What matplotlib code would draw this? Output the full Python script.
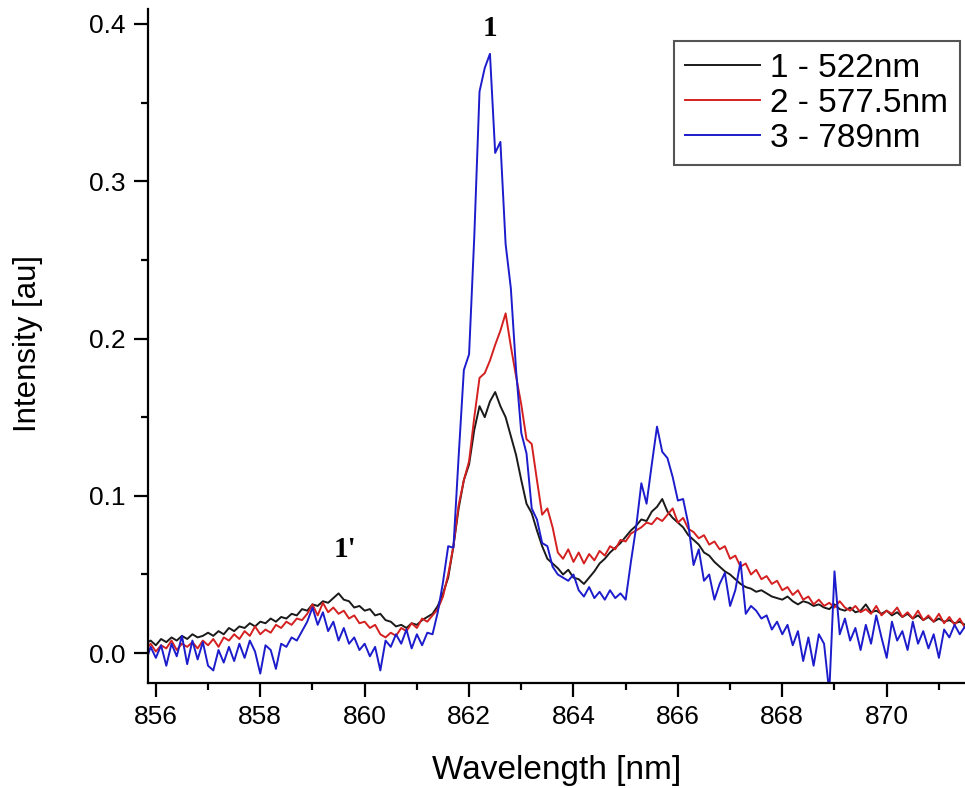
import numpy as np
import matplotlib
matplotlib.use("Agg")
import matplotlib.pyplot as plt
from matplotlib.ticker import MultipleLocator, FormatStrFormatter

plt.rcParams['font.family'] = ['Liberation Sans', 'DejaVu Sans']

# wavelength grid of the spectra, 855.8 .. 871.6 nm
wavelength = np.round(np.linspace(855.8, 871.6, 159), 2)

labels = ["1 - 522nm", "2 - 577.5nm", "3 - 789nm"]
colors = ["#1a1a1a", "#d42020", "#1c1ccc"]

# 1 - 522nm
black = [
    0.006, 0.008, 0.005, 0.009, 0.007, 0.010, 0.008, 0.011, 0.009, 0.012,
    0.010, 0.011, 0.013, 0.011, 0.014, 0.012, 0.016, 0.014, 0.017, 0.016,
    0.019, 0.017, 0.020, 0.019, 0.022, 0.020, 0.023, 0.022, 0.025, 0.024,
    0.028, 0.027, 0.031, 0.030, 0.033, 0.032, 0.035, 0.038, 0.034, 0.033,
    0.029, 0.030, 0.027, 0.028, 0.024, 0.025, 0.021, 0.020, 0.017, 0.018,
    0.016, 0.019, 0.018, 0.021, 0.023,
    # 861.3 - 863.7
    0.025, 0.030, 0.038, 0.048, 0.068, 0.092, 0.110, 0.120, 0.142, 0.157,
    0.150, 0.160, 0.166, 0.157, 0.150, 0.138, 0.126, 0.110, 0.095, 0.089,
    0.078, 0.068, 0.060, 0.057, 0.054,
    # 863.8 - 871.6
    0.050, 0.053, 0.048, 0.047, 0.044, 0.048, 0.052, 0.057, 0.060, 0.064,
    0.067, 0.070, 0.074, 0.078, 0.081, 0.085, 0.084, 0.090, 0.093, 0.098,
    0.090, 0.086, 0.083, 0.080, 0.075, 0.072, 0.069, 0.064, 0.062, 0.058,
    0.055, 0.052, 0.050, 0.047, 0.044, 0.042, 0.041, 0.039, 0.040, 0.038,
    0.036, 0.035, 0.034, 0.036, 0.033, 0.031, 0.033, 0.032, 0.030, 0.031,
    0.029, 0.028, 0.031, 0.028, 0.027, 0.029, 0.026, 0.027, 0.031, 0.026,
    0.027, 0.025, 0.027, 0.024, 0.026, 0.023, 0.025, 0.022, 0.024, 0.021,
    0.023, 0.020, 0.022, 0.020, 0.021, 0.019, 0.020, 0.018, 0.019,
]

# 2 - 577.5nm
red = [
    0.002, 0.006, 0.001, 0.005, 0.003, 0.008, 0.002, 0.006, 0.004, 0.007,
    0.003, 0.008, 0.005, 0.009, 0.004, 0.010, 0.008, 0.012, 0.009, 0.014,
    0.011, 0.017, 0.012, 0.015, 0.013, 0.018, 0.016, 0.020, 0.018, 0.022,
    0.021, 0.025, 0.031, 0.024, 0.032, 0.026, 0.029, 0.025, 0.027, 0.022,
    0.024, 0.019, 0.020, 0.016, 0.018, 0.012, 0.010, 0.013, 0.011, 0.016,
    0.014, 0.019, 0.016, 0.022, 0.020,
    # 861.3 - 863.7
    0.024, 0.028, 0.036, 0.050, 0.068, 0.094, 0.110, 0.122, 0.150, 0.175,
    0.178, 0.186, 0.196, 0.205, 0.216, 0.195, 0.176, 0.158, 0.136, 0.133,
    0.110, 0.088, 0.092, 0.080, 0.064,
    # 863.8 - 871.6
    0.060, 0.066, 0.058, 0.064, 0.057, 0.063, 0.059, 0.065, 0.062, 0.068,
    0.066, 0.072, 0.071, 0.076, 0.078, 0.080, 0.083, 0.082, 0.086, 0.084,
    0.088, 0.092, 0.083, 0.086, 0.079, 0.077, 0.073, 0.075, 0.069, 0.071,
    0.066, 0.068, 0.060, 0.062, 0.055, 0.057, 0.050, 0.053, 0.047, 0.049,
    0.044, 0.046, 0.040, 0.042, 0.037, 0.040, 0.034, 0.036, 0.031, 0.034,
    0.030, 0.032, 0.029, 0.033, 0.029, 0.027, 0.030, 0.026, 0.028, 0.025,
    0.030, 0.024, 0.027, 0.025, 0.029, 0.023, 0.026, 0.022, 0.027, 0.021,
    0.024, 0.020, 0.025, 0.019, 0.023, 0.018, 0.022, 0.016, 0.020,
]

# 3 - 789nm
blue = [
    -0.006, 0.004, -0.003, 0.005, -0.008, 0.006, -0.002, 0.011, -0.007, 0.008,
    -0.004, 0.007, -0.008, -0.011, 0.002, -0.006, 0.004, -0.005, 0.006, -0.003,
    0.008, 0.001, -0.013, 0.005, 0.002, -0.010, 0.006, 0.004, 0.010, 0.008,
    0.014, 0.020, 0.029, 0.018, 0.026, 0.014, 0.020, 0.008, 0.016, 0.006,
    0.010, 0.002, 0.006, -0.002, 0.004, -0.011, 0.008, 0.004, 0.012, 0.006,
    0.015, 0.003, 0.012, 0.005, 0.013,
    # 861.3 - 863.7
    0.012, 0.026, 0.045, 0.068, 0.067, 0.125, 0.180, 0.190, 0.265, 0.357,
    0.372, 0.381, 0.318, 0.325, 0.260, 0.232, 0.180, 0.140, 0.127, 0.092,
    0.085, 0.070, 0.068, 0.055, 0.050,
    # 863.8 - 871.6
    0.048, 0.046, 0.050, 0.040, 0.036, 0.042, 0.035, 0.039, 0.034, 0.040,
    0.035, 0.038, 0.034, 0.058, 0.080, 0.108, 0.095, 0.120, 0.144, 0.128,
    0.124, 0.112, 0.097, 0.098, 0.082, 0.056, 0.066, 0.046, 0.050, 0.034,
    0.044, 0.051, 0.030, 0.040, 0.058, 0.025, 0.030, 0.027, 0.022, 0.024,
    0.015, 0.020, 0.012, 0.018, 0.005, 0.014, -0.005, 0.010, -0.008, 0.012,
    0.006, -0.025, 0.052, 0.012, 0.022, 0.008, 0.016, 0.002, 0.018, 0.006,
    0.024, 0.010, -0.003, 0.020, 0.008, 0.014, 0.002, 0.020, 0.006, 0.014,
    0.003, 0.012, -0.003, 0.015, 0.010, 0.018, 0.012, 0.017, 0.016,
]

fig = plt.figure(figsize=(9.65, 7.88), dpi=100)
ax = fig.add_axes([0.1534, 0.1332, 0.8466, 0.8554])

for y, lab, c in zip([black, red, blue], labels, colors):
    ax.plot(wavelength, y, color=c, lw=1.4, label=lab)

ax.set_xlim(855.85, 871.5)
ax.set_ylim(-0.019, 0.4095)

ax.xaxis.set_major_locator(MultipleLocator(2))
ax.xaxis.set_minor_locator(MultipleLocator(1))
ax.yaxis.set_major_locator(MultipleLocator(0.1))
ax.yaxis.set_minor_locator(MultipleLocator(0.05))
ax.yaxis.set_major_formatter(FormatStrFormatter('%.1f'))

ax.spines['top'].set_visible(False)
ax.spines['right'].set_visible(False)
for s in ['left', 'bottom']:
    ax.spines[s].set_linewidth(1.6)
ax.tick_params(which='major', direction='out', length=10, width=1.6,
               labelsize=19, pad=6)
ax.tick_params(which='minor', direction='out', length=5, width=1.6)

ax.set_xlabel("Wavelength [nm]", fontsize=24)
ax.set_ylabel("Intensity [au]", fontsize=22.5)
ax.xaxis.set_label_coords(0.5, -0.107)
ax.yaxis.set_label_coords(-0.1285, 0.503)

# peak labels
ax.text(862.4, 0.397, "1", fontsize=21, fontweight='bold',
        family='Liberation Serif', ha='center', va='center')
ax.text(859.62, 0.0656, "1'", fontsize=21, fontweight='bold',
        family='Liberation Serif', ha='center', va='center')

leg = ax.legend(loc='upper right', bbox_to_anchor=(960 / 965, 1 - 41 / 788),
                bbox_transform=fig.transFigure, borderaxespad=0,
                fontsize=24, fancybox=False, handlelength=2.25,
                handletextpad=0.3, labelspacing=0.12, borderpad=0.35,
                framealpha=1)
leg.get_frame().set_edgecolor('#555555')
leg.get_frame().set_linewidth(1.5)

fig.savefig("out.png", dpi=100)
